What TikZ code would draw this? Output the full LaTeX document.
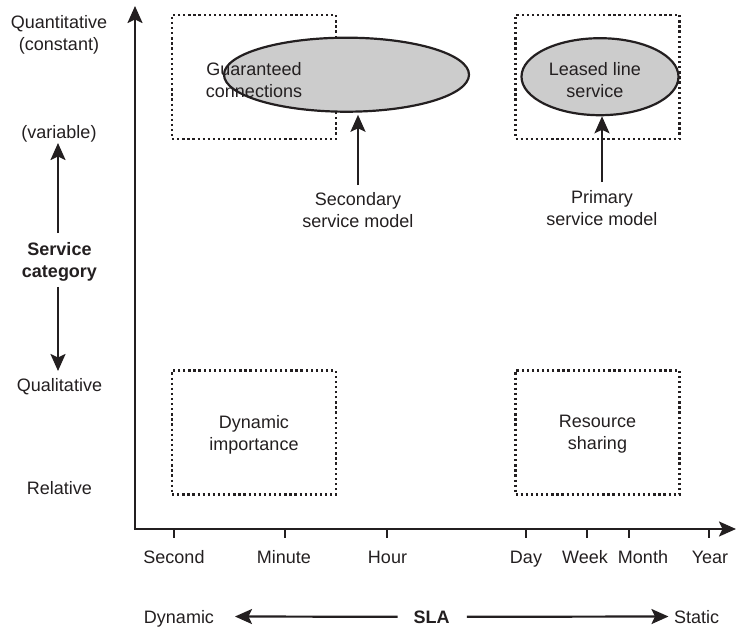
\documentclass[tikz,border=0pt]{standalone}
\usepackage{fontspec}
\setmainfont{Liberation Sans}
\usetikzlibrary{arrows.meta,shapes.geometric}
\definecolor{ink}{HTML}{231F20}
\definecolor{shade}{HTML}{CCCCCC}
\begin{document}
\begin{tikzpicture}[x=1pt,y=-1pt,
  txt/.style={font=\fontsize{18}{22}\selectfont, align=center, text=ink, inner sep=0pt},
  boldtxt/.style={txt, font=\fontsize{18}{22.5}\selectfont\bfseries},
  region/.style={draw=ink, line width=2.3pt, dash pattern=on 2.3pt off 2.8pt,
    minimum width=164pt, minimum height=124pt, inner sep=0pt},
  oval/.style={ellipse, draw=ink, fill=shade, line width=2.2pt, inner sep=0pt},
  axis/.style={draw=ink, line width=2.2pt, -{Stealth[length=17pt,width=15pt,inset=3.5pt]}},
  pointer/.style={draw=ink, line width=2.2pt, -{Stealth[length=17pt,width=15pt,inset=3.5pt]}},
  tickmark/.style={draw=ink, line width=2.2pt}
]
\useasboundingbox (0,0) rectangle (737,629);

% axes
\coordinate (origin) at (135,529);
\coordinate (ytip) at (135,6);
\coordinate (xtip) at (736,529);
\draw[axis] (origin) -- (ytip);
\draw[axis] ([xshift=-1.1pt]origin) -- (xtip);

% dotted regions
\node[region] (qtyfast) at (254,77) {};
\node[region] (qtyslow) at (597.5,77) {};
\node[region] (qualfast) at (254,432.5) {};
\node[region] (qualslow) at (597.5,432.5) {};

% service models
\node[oval, minimum width=245pt, minimum height=74pt] (ovalL) at (346.5,74.7) {};
\node[oval, minimum width=157pt, minimum height=77pt] (ovalR) at (600,76.7) {};

% region texts
\node[txt, anchor=north] (guar) at (254,62) {Guaranteed\\connections};
\node[txt, anchor=north] (leased) at (595,62) {Leased line\\service};
\node[txt, anchor=north] (dynimp) at (254,415) {Dynamic\\importance};
\node[txt, anchor=north] (ressh) at (597.5,415) {Resource\\sharing};

% model labels with pointers
\node[txt, anchor=north] (secLbl) at (358,192) {Secondary\\service model};
\node[txt, anchor=north] (priLbl) at (602,190) {Primary\\service model};
\draw[pointer, shorten >=2pt] ([yshift=7pt]secLbl.north) -- (secLbl.north |- ovalL.south);
\draw[pointer] ([yshift=8pt]priLbl.north) -- (priLbl.north |- ovalR.south);

% vertical scale labels
\node[txt, anchor=north] (quant) at (59,15) {Quantitative\\(constant)};
\node[txt] (var) at (59,133.5) {(variable)};
\node[boldtxt, anchor=north] (svc) at (59.5,242) {Service\\category};
\node[txt] (qual) at (59.5,387) {Qualitative};
\node[txt] (rel) at (59.5,488) {Relative};
\coordinate (upTip) at (58,143);
\coordinate (downTip) at (58,371);
\draw[pointer] ([yshift=9pt]svc.north -| upTip) -- (upTip);
\draw[pointer] ([yshift=-5pt]svc.south -| downTip) -- (downTip);

% time scale: tick position / name / label position / label
\foreach \x/\name/\lx/\lab in {174/sec/174/Second, 285/min/284/Minute, 387/hour/387.5/Hour,
    526/day/526/Day, 587/week/585/Week, 629/month/643/Month, 709/year/710/Year} {
  \coordinate (t\name) at (\x,530);
  \draw[tickmark] (t\name) -- ++(0,8);
  \node[txt, anchor=base] (l\name) at (\lx,563) {\lab};
}

% SLA direction
\node[txt, anchor=base] (dyn) at (179,623) {Dynamic};
\node[boldtxt, anchor=base] (sla) at (431.7,623) {SLA};
\node[txt, anchor=base] (sta) at (696.7,623) {Static};
\coordinate (dynTip) at (235,616.5);
\coordinate (staTip) at (668.5,616.5);
\draw[pointer] ([xshift=-16pt]sla.west) -- (dynTip);
\draw[pointer] ([xshift=17pt]sla.east) -- (staTip);
\end{tikzpicture}
\end{document}
